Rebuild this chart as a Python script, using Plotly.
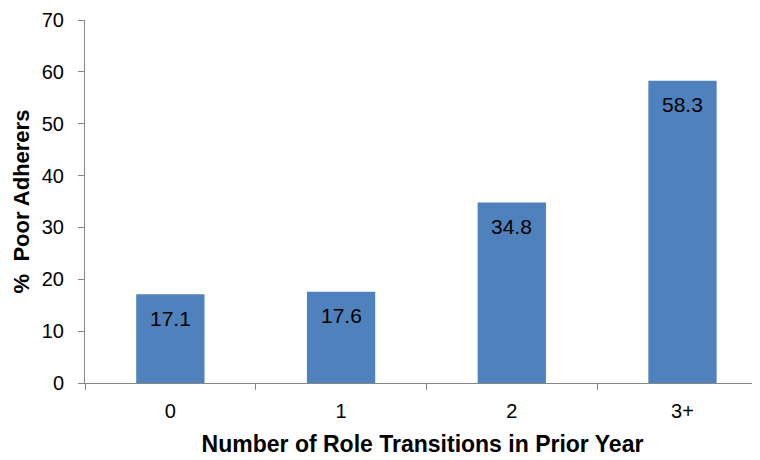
import plotly.graph_objects as go

categories = ["0", "1", "2", "3+"]
values = [17.1, 17.6, 34.8, 58.3]
y_ticks = [0, 10, 20, 30, 40, 50, 60, 70]

BAR = "#4F81BD"
AXIS = "#868686"
FONT = "Liberation Sans, Arial, sans-serif"

fig = go.Figure()
fig.add_trace(go.Bar(
    x=categories, y=values, width=0.4,
    marker=dict(color=BAR, line=dict(width=0)),
    hoverinfo="skip",
))

for c, v in zip(categories, values):
    fig.add_annotation(
        x=c, y=v, text=f"{v:.1f}", showarrow=False,
        yanchor="middle", yshift=-24,
        font=dict(family=FONT, size=21, color="#000000"),
    )

fig.update_layout(
    width=752, height=452,
    margin=dict(l=77, r=0, t=12, b=77),
    paper_bgcolor="white", plot_bgcolor="white",
    showlegend=False,
    font=dict(family=FONT, color="#000000"),
    xaxis=dict(
        type="category",
        range=[-0.5, 3.454],
        showline=True, linecolor=AXIS, linewidth=1,
        ticks="outside", tickson="boundaries", ticklen=6, tickcolor=AXIS,
        tickfont=dict(size=20, family=FONT),
        ticklabelstandoff=10,
        showgrid=False, zeroline=False,
        title=dict(text="<b>Number of Role Transitions in Prior Year</b>",
                   font=dict(size=23, family=FONT), standoff=14),
    ),
    yaxis=dict(
        range=[0, 70], tickvals=y_ticks,
        showline=True, linecolor=AXIS, linewidth=1,
        ticks="outside", ticklen=6, tickcolor=AXIS,
        tickfont=dict(size=20, family=FONT),
        ticklabelstandoff=10,
        showgrid=False, zeroline=False,
        title=dict(text="<b>%  Poor Adherers</b>",
                   font=dict(size=22, family=FONT), standoff=6),
    ),
)

fig.write_html("out.html")
